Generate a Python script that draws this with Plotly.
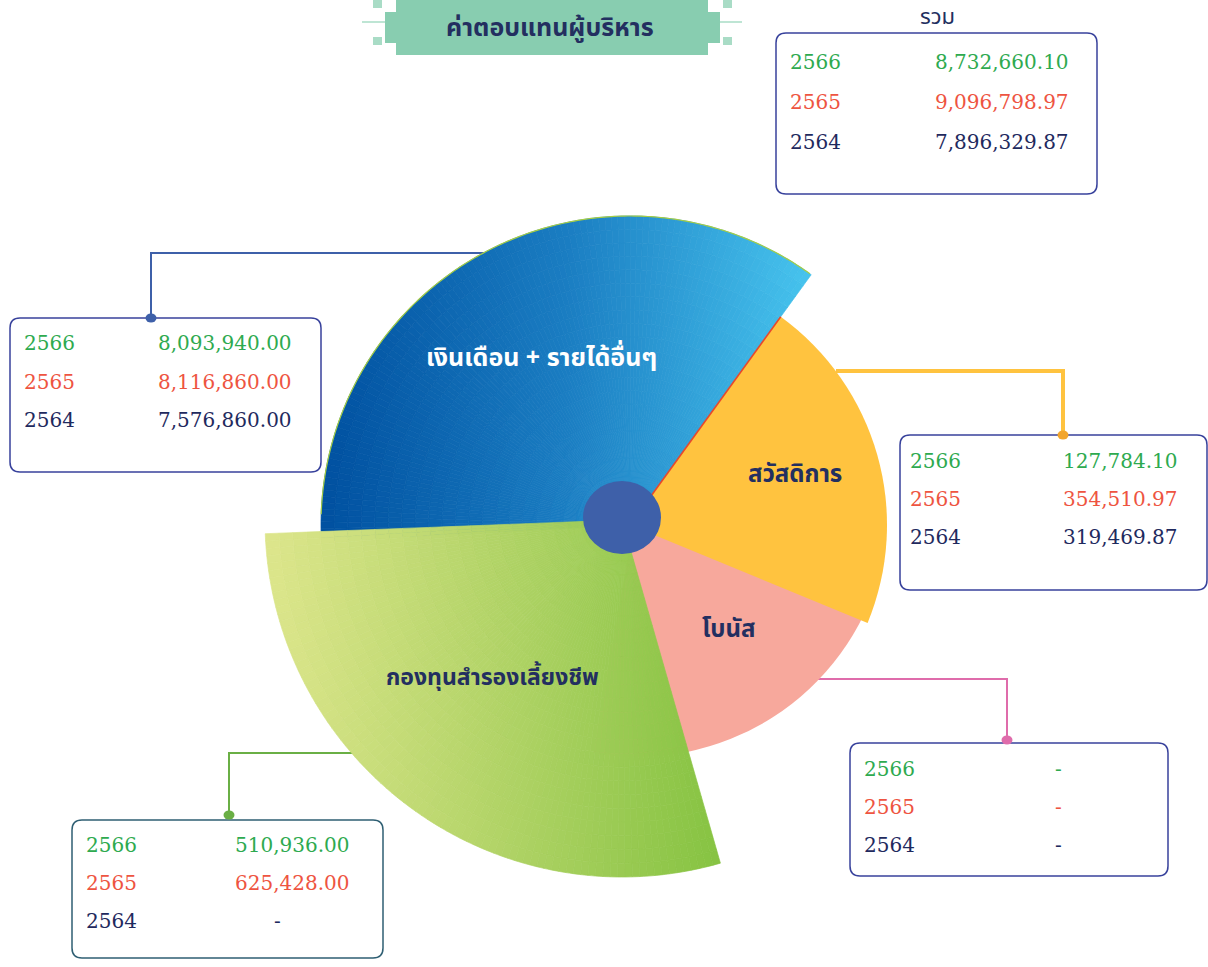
import numpy as np
import plotly.graph_objects as go

# ---------------- data ----------------
title = "ค่าตอบแทนผู้บริหาร"
total_label = "รวม"
years = ["2566", "2565", "2564"]
categories = ["เงินเดือน + รายได้อื่นๆ", "สวัสดิการ", "โบนัส", "กองทุนสำรองเลี้ยงชีพ"]
salary = [8093940.00, 8116860.00, 7576860.00]
welfare = [127784.10, 354510.97, 319469.87]
bonus = [None, None, None]
provident = [510936.00, 625428.00, None]
totals = [8732660.10, 9096798.97, 7896329.87]

# ---------------- style ----------------
W, H = 1208, 967
RMAX = 360
year_colors = ["#2EAA4F", "#EE5441", "#1F2A5E"]
navy = "#232F60"
num_font = "DejaVu Serif"
thai_font = "Noto Sans Thai, Noto Sans Thai UI, Noto Sans, sans-serif"

# polar subplots (decorative exploded layout): name -> centre in pixels
polar_centres = {"polar": (637, 505), "polar2": (630, 525), "polar3": (622, 520)}

# sector geometry: subplot, start angle, end angle (deg, ccw from east), radius
sectors = {
    "bonus": dict(sp="polar", t0=-100.0, t1=-15.0, r=252, color="#F7A89C"),
    "salary": dict(sp="polar2", t0=54.1, t1=183.0, r=309, grad=["#0050A0", "#1A7DC2", "#47C4EE"]),
    "welfare": dict(sp="polar2", t0=-22.4, t1=54.1, r=257, color="#FFC33F"),
    "provident": dict(sp="polar3", t0=182.2, t1=286.0, r=357, grad=["#DDE68C", "#B3D468", "#86C342"]),
}

fig = go.Figure()


def gradient_sector(spec):
    t0, t1, R = spec["t0"], spec["t1"], spec["r"]
    nt = int(np.ceil((t1 - t0) / 1.2))
    nr = int(np.ceil(R / 14))
    th_edges = np.linspace(t0, t1, nt + 1)
    r_edges = np.linspace(0, R, nr + 1)
    thc = (th_edges[:-1] + th_edges[1:]) / 2
    dth = th_edges[1] - th_edges[0]
    TH, R0 = np.meshgrid(thc, r_edges[:-1])
    DR = r_edges[1] - r_edges[0]
    rm = R0 + DR / 2
    xval = rm * np.cos(np.radians(TH))
    ang = np.radians(np.linspace(t0, t1, 400))
    xs = np.concatenate([[0], R * np.cos(ang)])
    cmin, cmax = xs.min(), xs.max()
    n = len(spec["grad"])
    cs = [[i / (n - 1), c] for i, c in enumerate(spec["grad"])]
    fig.add_trace(go.Barpolar(
        r=np.full(TH.size, DR), base=R0.ravel(), theta=TH.ravel(), width=np.full(TH.size, dth),
        marker=dict(color=xval.ravel(), colorscale=cs, cmin=cmin, cmax=cmax,
                    line=dict(width=0.7, color=xval.ravel(), colorscale=cs, cmin=cmin, cmax=cmax)),
        hoverinfo="skip", showlegend=False, subplot=spec["sp"]))


def solid_sector(spec):
    fig.add_trace(go.Barpolar(
        r=[spec["r"]], theta=[(spec["t0"] + spec["t1"]) / 2], width=[spec["t1"] - spec["t0"]],
        marker=dict(color=spec["color"], line=dict(width=0)),
        hoverinfo="skip", showlegend=False, subplot=spec["sp"]))


solid_sector(sectors["bonus"])
gradient_sector(sectors["salary"])
solid_sector(sectors["welfare"])
gradient_sector(sectors["provident"])

# thin outline on salary arc
s = sectors["salary"]
arc_t = np.linspace(s["t0"] + 0.3, 178, 200)
fig.add_trace(go.Scatterpolar(r=np.full(arc_t.size, s["r"]), theta=arc_t, mode="lines",
                              line=dict(color="#A5CD45", width=1.2), hoverinfo="skip",
                              showlegend=False, subplot=s["sp"]))
# red edge on welfare
w = sectors["welfare"]
fig.add_trace(go.Scatterpolar(r=[30, w["r"]], theta=[w["t1"], w["t1"]], mode="lines",
                              line=dict(color="#E8482B", width=1.6), hoverinfo="skip",
                              showlegend=False, subplot=w["sp"]))

# invisible pixel-space cartesian axes for boxes / text
fig.add_trace(go.Scatter(x=[0, W], y=[0, H], mode="markers", marker=dict(opacity=0),
                         hoverinfo="skip", showlegend=False))

shapes = []
annotations = []


def rounded_rect(x0, y0, x1, y1, rad, color, width=1.5):
    p = (f"M {x0+rad},{y0} L {x1-rad},{y0} Q {x1},{y0} {x1},{y0+rad} "
         f"L {x1},{y1-rad} Q {x1},{y1} {x1-rad},{y1} L {x0+rad},{y1} "
         f"Q {x0},{y1} {x0},{y1-rad} L {x0},{y0+rad} Q {x0},{y0} {x0+rad},{y0} Z")
    shapes.append(dict(type="path", path=p, xref="x", yref="y", line=dict(color=color, width=width),
                       fillcolor="white", layer="below"))


def fmt(v):
    return "-" if v is None else f"{v:,.2f}"


def value_box(vals, rect, year_x, val_x, ys, dash_x, border="#38429C"):
    rounded_rect(*rect, 10, border)
    for i, (yr, v) in enumerate(zip(years, vals)):
        f = dict(family=num_font, size=20, color=year_colors[i])
        annotations.append(dict(x=year_x, y=ys[i], text=yr, xanchor="left", yanchor="middle",
                                showarrow=False, xref="x", yref="y", font=f))
        if v is None:
            annotations.append(dict(x=dash_x, y=ys[i], text="-", xanchor="center", yanchor="middle",
                                    showarrow=False, xref="x", yref="y", font=f))
        else:
            annotations.append(dict(x=val_x, y=ys[i], text=fmt(v), xanchor="right", yanchor="middle",
                                    showarrow=False, xref="x", yref="y", font=f))


def connector(pts, color, width, dot, dotcolor=None):
    p = "M " + " L ".join(f"{x},{y}" for x, y in pts)
    shapes.append(dict(type="path", path=p, xref="x", yref="y", line=dict(color=color, width=width),
                       layer="below"))
    dx, dy = dot
    shapes.append(dict(type="circle", xref="x", yref="y", x0=dx-5.5, x1=dx+5.5, y0=dy-4.5, y1=dy+4.5,
                       fillcolor=dotcolor or color, line=dict(width=0), layer="above"))


connector([(492, 253), (151, 253), (151, 318)], "#3E60A9", 2, (151, 318))
connector([(836, 371), (1063, 371), (1063, 435)], "#FFC33F", 4, (1063, 435), "#F2A52C")
connector([(812, 679), (1007, 679), (1007, 740)], "#DF6CAB", 2, (1007, 740))
connector([(356, 753), (229, 753), (229, 815)], "#6AAF45", 2, (229, 815))

value_box(totals, (776, 33, 1097, 194), 788, 1071, [62, 102, 142], 1000)
value_box(salary, (10, 318, 321, 472), 22, 294, [343, 382, 420], 230)
value_box(welfare, (900, 435, 1207, 590), 908, 1180, [461, 499, 537], 1100)
value_box(bonus, (850, 743, 1168, 876), 862, 1140, [769, 807, 845], 1058)
value_box(provident, (72, 820, 383, 958), 84, 352, [845, 883, 921], 277, border="#2F5F73")

annotations.append(dict(x=937, y=17, text=total_label, showarrow=False, xref="x", yref="y",
                        font=dict(family=thai_font, size=22, color=navy)))

# title banner
banner = "#88CDB0"
shapes.append(dict(type="rect", x0=396, x1=708, y0=0, y1=55, xref="x", yref="y",
                   fillcolor=banner, line=dict(width=0), layer="below"))
for x0, x1 in [(385, 396), (708, 720)]:
    shapes.append(dict(type="rect", x0=x0, x1=x1, y0=12, y1=43, xref="x", yref="y",
                       fillcolor=banner, line=dict(width=0), layer="below"))
for x0, x1 in [(362, 385), (720, 742)]:
    shapes.append(dict(type="line", x0=x0, x1=x1, y0=22, y1=22, xref="x", yref="y",
                       line=dict(color="#A9DCC6", width=1.5), layer="below"))
for sx in [373, 723]:
    for sy in [0, 37]:
        shapes.append(dict(type="rect", x0=sx, x1=sx+9, y0=sy, y1=sy+8, xref="x", yref="y",
                           fillcolor="#A9DCC6", line=dict(width=0), layer="below"))
annotations.append(dict(x=550, y=28, text=f"<b>{title}</b>", showarrow=False, xref="x", yref="y",
                        font=dict(family=thai_font, size=25, color=navy)))

# centre ellipse
shapes.append(dict(type="circle", x0=583, x1=661, y0=481, y1=554, xref="x", yref="y",
                   fillcolor="#3E60A9", line=dict(width=0), layer="above"))

# sector labels
label_pos = [(541, 358, "white", 25), (795, 475, navy, 24), (728, 630, navy, 24), (492, 678, navy, 23)]
for name, (lx, ly, c, fs) in zip(categories, label_pos):
    annotations.append(dict(x=lx, y=ly, text=f"<b>{name}</b>", showarrow=False, xref="x", yref="y",
                            font=dict(family=thai_font, size=fs, color=c)))

polar_layout = {}
for name, (cx, cy) in polar_centres.items():
    polar_layout[name] = dict(
        domain=dict(x=[(cx - RMAX) / W, (cx + RMAX) / W], y=[1 - (cy + RMAX) / H, 1 - (cy - RMAX) / H]),
        bgcolor="rgba(0,0,0,0)",
        radialaxis=dict(range=[0, RMAX], visible=False),
        angularaxis=dict(rotation=0, direction="counterclockwise", visible=False),
        hole=0,
    )

fig.update_layout(
    width=W, height=H, autosize=False,
    margin=dict(l=0, r=0, t=0, b=0),
    paper_bgcolor="white", plot_bgcolor="rgba(0,0,0,0)",
    xaxis=dict(range=[0, W], visible=False, fixedrange=True, domain=[0, 1]),
    yaxis=dict(range=[H, 0], visible=False, fixedrange=True, domain=[0, 1]),
    shapes=shapes, annotations=annotations, showlegend=False,
    **polar_layout,
)

fig.write_html("out.html", config={"displayModeBar": False},
               post_script="document.body.style.margin='0';")
